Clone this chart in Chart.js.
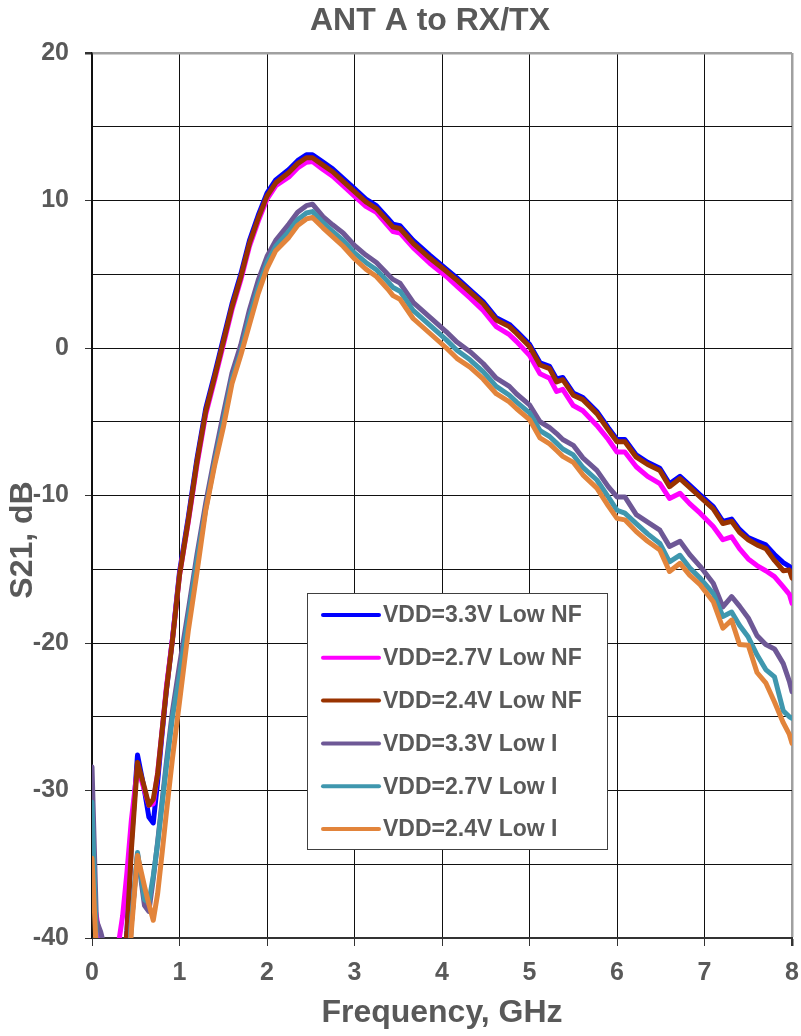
<!DOCTYPE html>
<html>
<head>
<meta charset="utf-8">
<title>ANT A to RX/TX</title>
<script src="https://cdn.jsdelivr.net/npm/chart.js@4.4.1/dist/chart.umd.min.js"></script>
<style>
  html, body { margin: 0; padding: 0; background: #fff; }
  #wrap { width: 801px; height: 1036px; }
</style>
</head>
<body>
<div id="wrap"><canvas id="myChart" width="801" height="1036"></canvas></div>
<script>
/* ---------- DATA (S21 in dB vs frequency in GHz) ---------- */
const freq = [
    0, 0.05, 0.1, 0.15, 0.2, 0.3, 0.35, 0.4, 0.45, 0.52,
    0.6, 0.65, 0.7, 0.75, 0.8, 0.85, 0.92, 1.0, 1.1, 1.2,
    1.3, 1.4, 1.5, 1.6, 1.7, 1.8, 1.9, 2.0, 2.1, 2.25,
    2.35, 2.45, 2.52, 2.64, 2.75, 2.87, 3.0, 3.13, 3.25, 3.38,
    3.44, 3.52, 3.67, 3.86, 4.05, 4.17, 4.32, 4.47, 4.62, 4.77,
    4.85, 5.0, 5.12, 5.23, 5.31, 5.38, 5.5, 5.61, 5.77, 5.9,
    6.0, 6.09, 6.22, 6.35, 6.49, 6.6, 6.72, 6.83, 6.95, 7.1,
    7.21, 7.31, 7.4, 7.5, 7.6, 7.7, 7.8, 7.9, 7.97, 8.0
];

const vdd33LowNF = [
    -45, -47, -49, -51, -52, -47, -43, -39.5, -33.5, -27.6,
    -30.0, -31.8, -32.2, -29.4, -26.2, -23.2, -19.7, -15.2, -11.5, -7.5,
    -4.1, -1.8, 0.6, 3.0, 5.0, 7.3, 9.0, 10.5, 11.4, 12.1,
    12.7, 13.1, 13.1, 12.6, 12.15, 11.5, 10.8, 10.1, 9.65, 8.8,
    8.4, 8.3, 7.3, 6.3, 5.35, 4.75, 3.95, 3.15, 2.05, 1.6,
    1.15, 0.25, -1.0, -1.25, -2.1, -2.0, -3.05, -3.35, -4.3, -5.4,
    -6.2, -6.2, -7.25, -7.75, -8.15, -9.2, -8.7, -9.3, -9.95, -10.75,
    -11.75, -11.6, -12.3, -12.85, -13.1, -13.35, -14.0, -14.55, -14.8, -15.0
];

const vdd27LowNF = [
    -37, -38.5, -40.5, -44, -47, -40.5, -38.5, -35.5, -32, -28.4,
    -30.0, -31.0, -30.9, -28.8, -26.0, -23.0, -19.7, -15.4, -11.8, -7.9,
    -4.5, -2.2, 0.2, 2.6, 4.6, 6.9, 8.6, 10.1, 11.0, 11.6,
    12.2, 12.6, 12.65, 12.1, 11.65, 11.0, 10.3, 9.6, 9.2, 8.3,
    7.9, 7.8, 6.8, 5.75, 4.85, 4.2, 3.4, 2.55, 1.45, 0.9,
    0.45, -0.5, -1.75, -2.05, -2.95, -2.8, -3.9, -4.25, -5.25, -6.2,
    -7.05, -7.05, -8.05, -8.7, -9.2, -10.2, -9.85, -10.55, -11.2, -12.1,
    -13.0, -12.8, -13.6, -14.3, -14.75, -15.1, -15.5, -16.2, -16.7, -17.3
];

const vdd24LowNF = [
    -44, -46, -48, -50, -52, -47, -43, -39.5, -34, -28.1,
    -29.8, -31.0, -30.6, -28.9, -26.0, -23.2, -19.8, -15.4, -11.7, -7.7,
    -4.3, -2.0, 0.4, 2.8, 4.8, 7.1, 8.8, 10.3, 11.2, 11.9,
    12.5, 12.9, 12.9, 12.4, 11.95, 11.3, 10.6, 9.9, 9.45, 8.6,
    8.2, 8.1, 7.1, 6.1, 5.2, 4.6, 3.8, 3.0, 1.9, 1.45,
    1.0, 0.1, -1.15, -1.4, -2.3, -2.15, -3.2, -3.5, -4.45, -5.55,
    -6.35, -6.35, -7.4, -7.9, -8.3, -9.4, -8.85, -9.45, -10.1, -10.9,
    -11.9, -11.75, -12.5, -13.0, -13.35, -13.6, -14.4, -15.1, -15.05, -15.6
];

const vdd33LowI = [
    -28.4, -38.8, -39.6, -40.8, -44, -50, -48, -44, -39.0, -34.3,
    -37.8, -38.2, -36.0, -33.5, -30.8, -28.1, -24.6, -21.5, -17.8, -14.0,
    -10.5, -7.4, -4.5, -1.7, 0.2, 2.6, 4.6, 6.2, 7.3, 8.4,
    9.2, 9.65, 9.75, 8.9, 8.35, 7.8, 6.95, 6.3, 5.8, 5.0,
    4.65, 4.4, 3.1, 2.1, 1.1, 0.4, -0.25, -1.05, -2.05, -2.6,
    -3.1, -3.85, -5.0, -5.4, -5.8, -6.2, -6.6, -7.45, -8.3, -9.4,
    -10.1, -10.1, -11.3, -11.8, -12.35, -13.45, -13.1, -14.0, -14.8, -15.95,
    -17.55, -16.85, -17.5, -18.3, -19.5, -20.1, -20.4, -21.4, -22.6, -23.3
];

const vdd27LowI = [
    -30.8, -40.5, -43, -46, -48, -50, -48, -44, -39.0, -34.2,
    -37.4, -37.6, -35.8, -33.6, -31.0, -28.4, -25.0, -22.2, -18.3, -14.4,
    -10.9, -7.8, -5.0, -2.1, -0.3, 2.1, 4.1, 5.8, 6.9, 7.9,
    8.7, 9.15, 9.25, 8.5, 7.9, 7.3, 6.45, 5.8, 5.3, 4.5,
    4.1, 3.85, 2.55, 1.55, 0.55, -0.15, -0.8, -1.6, -2.6, -3.2,
    -3.65, -4.4, -5.6, -6.0, -6.45, -6.85, -7.25, -8.1, -8.95, -10.1,
    -11.0, -11.2, -11.9, -12.6, -13.25, -14.5, -14.05, -14.9, -15.6, -16.65,
    -18.2, -17.9, -18.8, -19.6, -20.8, -21.8, -22.3, -24.6, -25.0, -25.1
];

const vdd24LowI = [
    -34.6, -41, -44, -47, -49, -50, -48, -44.5, -39.5, -34.4,
    -36.5, -37.7, -38.8, -37.0, -34.3, -31.5, -27.8, -24.0, -19.2, -15.2,
    -11.0, -8.0, -5.4, -2.4, -0.5, 1.6, 3.7, 5.4, 6.6, 7.5,
    8.3, 8.75, 8.85, 8.15, 7.55, 6.9, 6.05, 5.35, 4.85, 4.0,
    3.55, 3.3, 2.0, 1.0, 0.0, -0.7, -1.3, -2.1, -3.1, -3.65,
    -4.1, -4.85, -6.1, -6.5, -6.95, -7.35, -7.75, -8.6, -9.5, -10.7,
    -11.55, -11.65, -12.45, -13.1, -13.7, -15.15, -14.6, -15.4, -16.05, -17.2,
    -19.0, -18.45, -20.1, -20.15, -22.0, -22.7, -24.0, -25.4, -26.2, -26.8
];

const seriesLabels = [
    'VDD=3.3V Low NF', 'VDD=2.7V Low NF', 'VDD=2.4V Low NF',
    'VDD=3.3V Low I', 'VDD=2.7V Low I', 'VDD=2.4V Low I'
];
const seriesValues = [vdd33LowNF, vdd27LowNF, vdd24LowNF, vdd33LowI, vdd27LowI, vdd24LowI];
const seriesColors = ['#0000FF', '#FF00FF', '#993300', '#6E5896', '#3F97AE', '#E2843B'];

const FONT = '"Liberation Sans", Arial, Helvetica, sans-serif';
const GREY_TEXT = '#595959';

/* ---------- PLUGINS ---------- */
// chart title and y title, placed like the original
const titles = {
    id: 'titles',
    afterDraw(chart) {
        const { ctx, chartArea } = chart;
        ctx.save();
        ctx.fillStyle = GREY_TEXT;
        ctx.font = 'bold 32px ' + FONT;
        ctx.textAlign = 'center';
        ctx.textBaseline = 'middle';
        ctx.fillText('ANT A to RX/TX', chartArea.left + 338, 21);

        ctx.translate(23, chartArea.top + 487);
        ctx.rotate(-Math.PI / 2);
        ctx.fillText('S21, dB', 0, 0);
        ctx.restore();
    }
};

// boxed legend inside the plot
const legendBox = {
    id: 'legendBox',
    afterDatasetsDraw(chart) {
        const { ctx, chartArea } = chart;
        const x0 = chartArea.left + 215;
        const y0 = chartArea.top + 540;
        const w = 300, h = 256;
        ctx.save();
        ctx.fillStyle = '#ffffff';
        ctx.fillRect(x0, y0, w, h);
        ctx.strokeStyle = '#404040';
        ctx.lineWidth = 1;
        ctx.strokeRect(x0 + 0.5, y0 + 0.5, w, h);

        ctx.font = 'bold 23px ' + FONT;
        ctx.textBaseline = 'middle';
        ctx.textAlign = 'left';
        chart.data.datasets.forEach((ds, i) => {
            const y = y0 + 22 + i * 42.8;
            ctx.strokeStyle = ds.borderColor;
            ctx.lineWidth = 4;
            ctx.lineCap = 'round';
            ctx.beginPath();
            ctx.moveTo(x0 + 16, y);
            ctx.lineTo(x0 + 72, y);
            ctx.stroke();
            ctx.fillStyle = GREY_TEXT;
            ctx.fillText(ds.label, x0 + 76, y + 1);
        });
        ctx.restore();
    }
};

/* ---------- CHART ---------- */
const datasets = seriesLabels.map((label, i) => ({
    label,
    data: freq.map((f, j) => ({ x: f, y: seriesValues[i][j] })),
    borderColor: seriesColors[i],
    backgroundColor: seriesColors[i],
    borderWidth: 5,
    pointRadius: 0,
    tension: 0,
    borderJoinStyle: 'round',
    borderCapStyle: 'round',
    order: seriesLabels.length - i
}));

const ctx = document.getElementById('myChart').getContext('2d');
new Chart(ctx, {
    type: 'line',
    data: { datasets },
    options: {
        responsive: false,
        animation: false,
        devicePixelRatio: 1,
        layout: { padding: { top: 53, right: 9, left: 0, bottom: 0 } },
        plugins: {
            legend: { display: false },
            tooltip: { enabled: false },
            title: { display: false }
        },
        scales: {
            x: {
                type: 'linear',
                min: 0,
                max: 8,
                afterFit: s => {
                    s.height = 98;
                    s.paddingLeft = 0;
                    s.paddingRight = 0;
                },
                ticks: {
                    stepSize: 1,
                    padding: 12,
                    color: GREY_TEXT,
                    font: { family: FONT, size: 25, weight: 'bold' }
                },
                grid: {
                    color: c => (c.tick && c.tick.value === 8) ? '#a0a0a0' : '#111',
                    lineWidth: c => (c.tick && c.tick.value === 8) ? 2.5 : 1,
                    tickLength: 8,
                    tickColor: '#333'
                },
                border: { display: true, color: '#333', width: 2 },
                title: {
                    display: true,
                    text: 'Frequency, GHz',
                    color: GREY_TEXT,
                    font: { family: FONT, size: 32, weight: 'bold' },
                    padding: { top: 4, bottom: 4 }
                }
            },
            y: {
                min: -40,
                max: 20,
                afterFit: s => { s.width = 92; },
                ticks: {
                    stepSize: 5,
                    padding: 16,
                    color: GREY_TEXT,
                    font: { family: FONT, size: 25, weight: 'bold' },
                    callback: v => (v % 10 === 0 ? v : '')
                },
                grid: {
                    color: c => (c.tick && c.tick.value === 20) ? '#a0a0a0' : '#111',
                    lineWidth: c => (c.tick && c.tick.value === 20) ? 2.5 : 1,
                    tickLength: 7,
                    tickColor: c => (c.tick && c.tick.value % 10 === 0) ? '#333' : 'rgba(0,0,0,0)'
                },
                border: { display: true, color: '#111', width: 1.5 }
            }
        }
    },
    plugins: [legendBox, titles]
});
</script>
</body>
</html>
